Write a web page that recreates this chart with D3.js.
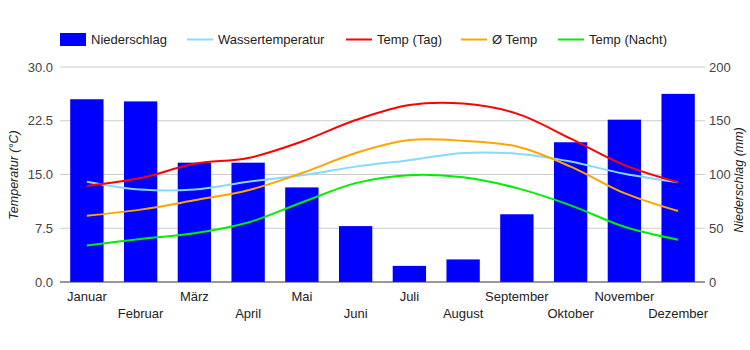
<!DOCTYPE html>
<html>
<head>
<meta charset="utf-8">
<script src="https://cdnjs.cloudflare.com/ajax/libs/d3/7.8.5/d3.min.js"></script>
<style>
  body { margin: 0; background: #fff; }
  svg { font-family: "Liberation Sans", Arial, sans-serif; }
</style>
</head>
<body>
<svg id="chart" width="750" height="350"></svg>
<script>
// data
var months = ["Januar", "Februar", "März", "April", "Mai", "Juni", "Juli", "August", "September", "Oktober", "November", "Dezember"];
var niederschlag = [170, 168, 111, 111, 88, 52, 15, 21, 63, 130, 151, 175];
var wassertemp = [14.0, 12.9, 12.9, 14.0, 14.9, 16.1, 17.0, 18.0, 17.9, 16.8, 15.1, 13.9];
var tempTag = [13.4, 14.5, 16.5, 17.3, 19.6, 22.6, 24.7, 24.9, 23.5, 20.0, 16.3, 13.9];
var tempAvg = [9.25, 10.1, 11.4, 12.8, 15.2, 18.0, 19.8, 19.7, 18.9, 16.1, 12.4, 9.9];
var tempNacht = [5.1, 6.0, 6.8, 8.3, 11.1, 13.8, 14.9, 14.6, 13.1, 10.7, 7.7, 5.9];
var tempTicks = [0, 7.5, 15, 22.5, 30];
var rainTicks = [0, 50, 100, 150, 200];

var series = [
  { name: "Wassertemperatur", values: wassertemp, color: "#87d9ff" },
  { name: "Temp (Tag)", values: tempTag, color: "#ff0000" },
  { name: "Ø Temp", values: tempAvg, color: "#ffa500" },
  { name: "Temp (Nacht)", values: tempNacht, color: "#00ee00" }
];

var svg = d3.select("#chart");
var margins = { left: 60, right: 705, top: 67, bottom: 282 };

var xScale = d3.scaleBand().domain(months)
  .range([margins.left, margins.right])
  .paddingInner(0.38).paddingOuter(0.19);
var yTemp = d3.scaleLinear().domain([0, 30]).range([margins.bottom, margins.top]);
var yRain = d3.scaleLinear().domain([0, 200]).range([margins.bottom, margins.top]);

// gridlines
svg.append("g").selectAll("line")
  .data(tempTicks.slice(1))
  .enter().append("line")
  .attr("x1", margins.left).attr("x2", margins.right)
  .attr("y1", function(d) { return yTemp(d); })
  .attr("y2", function(d) { return yTemp(d); })
  .attr("stroke", "#cccccc").attr("stroke-width", 1);

// bars
svg.append("g").selectAll("rect")
  .data(niederschlag)
  .enter().append("rect")
  .attr("x", function(d, i) { return xScale(months[i]); })
  .attr("width", xScale.bandwidth())
  .attr("y", function(d) { return yRain(d); })
  .attr("height", function(d) { return yRain(0) - yRain(d); })
  .attr("fill", "#0000ff");

// temperature lines
var line = d3.line()
  .x(function(d, i) { return xScale(months[i]) + xScale.bandwidth() / 2; })
  .y(function(d) { return yTemp(d); })
  .curve(d3.curveCatmullRom.alpha(0.5));

svg.append("g").selectAll("path")
  .data(series)
  .enter().append("path")
  .attr("d", function(s) { return line(s.values); })
  .attr("fill", "none")
  .attr("stroke", function(s) { return s.color; })
  .attr("stroke-width", 2);

// baseline
svg.append("line")
  .attr("x1", margins.left).attr("x2", margins.right)
  .attr("y1", margins.bottom).attr("y2", margins.bottom)
  .attr("stroke", "#333333").attr("stroke-width", 1);

// axes
var leftAxis = svg.append("g")
  .attr("transform", "translate(" + margins.left + ",0)")
  .call(d3.axisLeft(yTemp).tickValues(tempTicks).tickFormat(d3.format(".1f")).tickSize(0).tickPadding(7));
var rightAxis = svg.append("g")
  .attr("transform", "translate(" + margins.right + ",0)")
  .call(d3.axisRight(yRain).tickValues(rainTicks).tickSize(0).tickPadding(4));
var bottomAxis = svg.append("g")
  .attr("transform", "translate(0," + margins.bottom + ")")
  .call(d3.axisBottom(xScale).tickSize(0).tickPadding(0));

[leftAxis, rightAxis, bottomAxis].forEach(function(ax) {
  ax.select(".domain").remove();
  ax.selectAll("text")
    .style("font-size", "13px")
    .style("font-family", "'Liberation Sans', Arial, sans-serif")
    .attr("fill", "#444444");
});
bottomAxis.selectAll("text")
  .attr("fill", "#222222")
  .attr("dy", null)
  .attr("y", function(d, i) { return i % 2 === 0 ? 19 : 36; });

// axis titles
svg.append("text")
  .attr("transform", "translate(18,175) rotate(-90)")
  .attr("text-anchor", "middle")
  .style("font-size", "12.5px").style("font-style", "italic")
  .attr("fill", "#222222")
  .text("Temperatur (°C)");
svg.append("text")
  .attr("transform", "translate(743,180) rotate(-90)")
  .attr("text-anchor", "middle")
  .style("font-size", "12.5px").style("font-style", "italic")
  .attr("fill", "#222222")
  .text("Niederschlag (mm)");

// legend
var legend = svg.append("g").style("font-size", "13px").attr("fill", "#222222");
legend.append("rect")
  .attr("x", 60).attr("y", 33).attr("width", 26).attr("height", 13)
  .attr("fill", "#0000ff");
legend.append("text").attr("x", 91).attr("y", 44).text("Niederschlag");

var legendX = [187, 346, 461, 558];
series.forEach(function(s, i) {
  legend.append("line")
    .attr("x1", legendX[i]).attr("x2", legendX[i] + 26)
    .attr("y1", 39.5).attr("y2", 39.5)
    .attr("stroke", s.color).attr("stroke-width", 2);
  legend.append("text")
    .attr("x", legendX[i] + 31).attr("y", 44)
    .text(s.name);
});
</script>
</body>
</html>
